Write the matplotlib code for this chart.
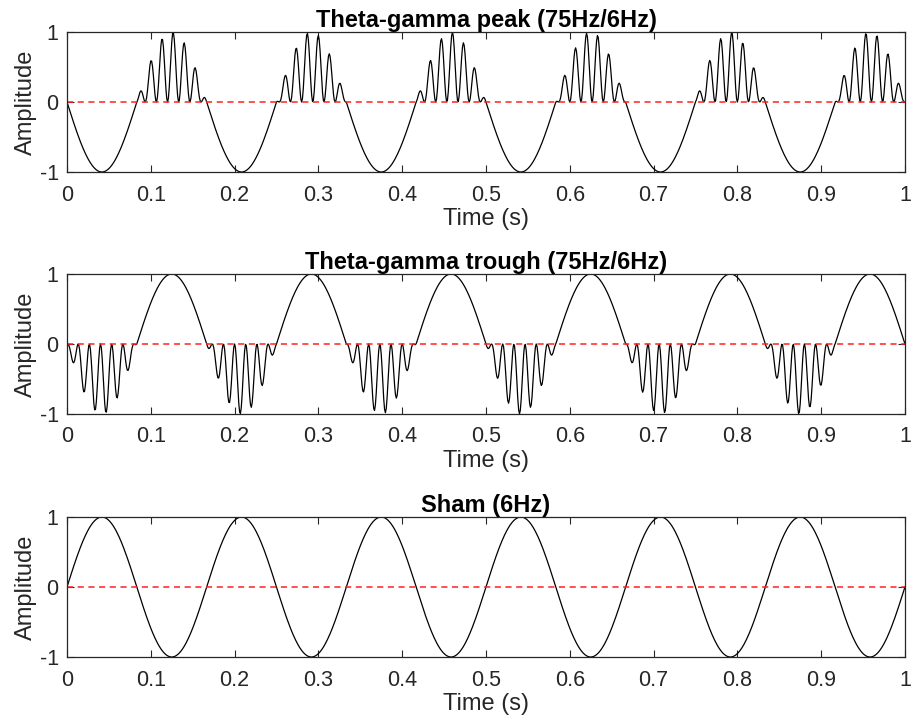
import numpy as np
import matplotlib.pyplot as plt

plt.rcParams['font.family'] = ['Liberation Sans', 'DejaVu Sans']
plt.rcParams['axes.unicode_minus'] = False

# signal settings (from the titles)
theta_freq = 6      # Hz
gamma_freq = 75     # Hz
fs = 1000           # samples per second
duration = 1.0      # s

titles = ['Theta-gamma peak (75Hz/6Hz)',
          'Theta-gamma trough (75Hz/6Hz)',
          'Sham (6Hz)']
xticks = [0, 0.1, 0.2, 0.3, 0.4, 0.5, 0.6, 0.7, 0.8, 0.9, 1]
xticklabels = ['0', '0.1', '0.2', '0.3', '0.4', '0.5', '0.6', '0.7', '0.8', '0.9', '1']
yticks = [-1, 0, 1]


def make_signals():
    t = np.arange(0, duration + 1 / fs, 1 / fs)
    sham = np.sin(2 * np.pi * theta_freq * t)
    base = -sham
    gamma = (1 - np.cos(2 * np.pi * gamma_freq * t)) / 2
    # gamma bursts ride on the positive half (peak) or negative half (trough)
    peak = np.where(base >= 0, base * gamma, base)
    trough = np.where(base <= 0, base * gamma, base)
    return t, [peak, trough, sham]


def style_axis(ax, title):
    axcol = '#262626'
    ax.set_xlim(0, 1)
    ax.set_ylim(-1, 1)
    ax.set_xticks(xticks)
    ax.set_xticklabels(xticklabels)
    ax.set_yticks(yticks)
    ax.tick_params(direction='in', length=5, width=0.8, top=True, right=True,
                   colors=axcol, labelsize=15.5)
    ax.tick_params(axis='x', pad=9)
    ax.tick_params(axis='y', pad=6)
    for sp in ax.spines.values():
        sp.set_color(axcol)
        sp.set_linewidth(0.9)
    ax.set_xlabel('Time (s)', fontsize=17, color=axcol, labelpad=2)
    ax.set_ylabel('Amplitude', fontsize=17, color=axcol, labelpad=2)
    ax.set_title(title, fontsize=17, fontweight='bold', pad=3.5)


t, signals = make_signals()

fig = plt.figure(figsize=(9.14, 7.24), dpi=100)
bottoms = [0.7624, 0.4282, 0.0925]
for sig, title, b in zip(signals, titles, bottoms):
    ax = fig.add_axes([0.0733, b, 0.9168, 0.1934])
    ax.plot(t, sig, color='k', lw=0.9)
    ax.axhline(0, color='#ff2020', lw=1.1, ls=(0, (4, 3)))
    style_axis(ax, title)

fig.savefig('out.png', dpi=100)
